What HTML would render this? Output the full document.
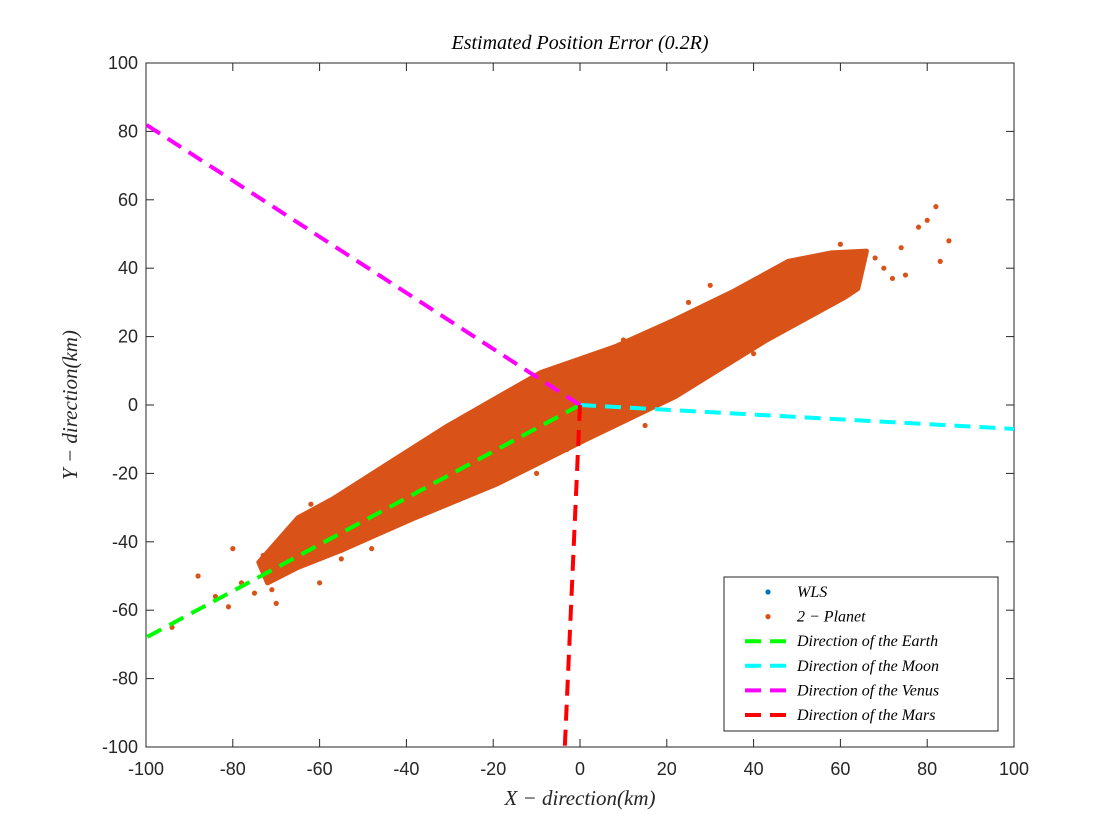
<!DOCTYPE html>
<html><head><meta charset="utf-8"><style>
body{margin:0;background:#fff}
svg{display:block}
text{font-family:"Liberation Sans",sans-serif}
.ser{font-family:"Liberation Serif",serif;font-style:italic}
</style></head><body>
<svg id="chart" width="1120" height="840">
<rect width="1120" height="840" fill="#fff"/>
<g id="plot"></g>
</svg>
<script>
const xTicks=[-100,-80,-60,-40,-20,0,20,40,60,80,100];
const yTicks=[-100,-80,-60,-40,-20,0,20,40,60,80,100];
const cloudUpper=[[-74,-46],[-65,-33],[-57,-27.5],[-44,-17],[-31,-6.5],[-9,9.5],[8,17],[22,25],[35,33],[48,42],[58,44.5],[66,45]];
const cloudLower=[[64,34],[61,31.5],[43,19],[22,2.5],[1.5,-10],[-19,-23],[-39,-33.5],[-55,-42.5],[-65,-47.5],[-72,-52]];
const outX=[-88,-94,-80,-81,-68,82,85,83,78,68,-5,15,17,-30,-55,70,-75,45,30,-10,-62,-70,60,74,-3,10,25,-48,55,-66,-78,-84,-73,-71,75,80,72,-60,40];
const outY=[-50,-65,-42,-59,-38,58,48,42,52,43,7,-6,22,-25,-45,40,-55,38,35,-20,-29,-58,47,46,-13,19,30,-42,28,-48,-52,-56,-44,-54,38,54,37,-52,15];
const lines=[
 {name:'earth',color:'#00ff00',end:[-100,-68]},
 {name:'moon',color:'#00ffff',end:[100,-7]},
 {name:'venus',color:'#ff00ff',end:[-100,82]},
 {name:'mars',color:'#ff0000',end:[-3.5,-100]}
];
const legendLabels=['WLS','2 − Planet','Direction of the Earth','Direction of the Moon','Direction of the Venus','Direction of the Mars'];
const L=146,R=1014,T=63,B=747;
const sx=v=>L+(v+100)/200*(R-L);
const sy=v=>B-(v+100)/200*(B-T);
const NS='http://www.w3.org/2000/svg';
const g=document.getElementById('plot');
function mk(tag,attrs,parent){const e=document.createElementNS(NS,tag);for(const k in attrs)e.setAttribute(k,attrs[k]);(parent||g).appendChild(e);return e;}
const frame=mk('rect',{x:L,y:T,width:R-L,height:B-T,fill:'#fff',stroke:'#262626','stroke-width':1});


xTicks.forEach(v=>{
 const x=sx(v);
 mk('line',{x1:x,x2:x,y1:B,y2:B-8,stroke:'#262626'});
 mk('line',{x1:x,x2:x,y1:T,y2:T+8,stroke:'#262626'});
 const t=mk('text',{x:x,y:B+28,'text-anchor':'middle','font-size':18,fill:'#262626'});t.textContent=v;
 
 
});
yTicks.forEach(v=>{
 const y=sy(v);
 mk('line',{x1:L,x2:L+8,y1:y,y2:y,stroke:'#262626'});
 mk('line',{x1:R,x2:R-8,y1:y,y2:y,stroke:'#262626'});
 const t=mk('text',{x:L-8,y:y+6,'text-anchor':'end','font-size':18,fill:'#262626'});t.textContent=v;
 
 
});
const pts=cloudUpper.concat(cloudLower).map(p=>sx(p[0])+','+sy(p[1])).join(' ');
const cloud=mk('polygon',{points:pts,fill:'#d95319',stroke:'#d95319','stroke-width':5,'stroke-linejoin':'round'});


outX.forEach((v,i)=>{
 const c=mk('circle',{cx:sx(v),cy:sy(outY[i]),r:2.6,fill:'#d95319'});
 
 
});
lines.forEach(l=>{
 const e=mk('line',{x1:sx(0),y1:sy(0),x2:sx(l.end[0]),y2:sy(l.end[1]),stroke:l.color,'stroke-width':4,'stroke-dasharray':'16,9'});
 
 
});
const title=mk('text',{x:580,y:49,'text-anchor':'middle','font-size':20,class:'ser',fill:'#000'});title.textContent='Estimated Position Error (0.2R)';


const xl=mk('text',{x:580,y:805,'text-anchor':'middle','font-size':21,class:'ser',fill:'#262626'});xl.textContent='X − direction(km)';


const yl=mk('text',{x:0,y:0,'text-anchor':'middle','font-size':21,class:'ser',fill:'#262626',transform:'translate(77,405) rotate(-90)'});yl.textContent='Y − direction(km)';


const lg=mk('g',{});


mk('rect',{x:724,y:577,width:274,height:154,fill:'#fff',stroke:'#262626'},lg);
const legendColors=['#0072bd','#d95319','#00ff00','#00ffff','#ff00ff','#ff0000'];
legendLabels.forEach((lab,i)=>{
 const y=592+i*24.6;
 if(i<2){mk('circle',{cx:768,cy:y,r:2.6,fill:legendColors[i]},lg);}
 else{mk('line',{x1:745,x2:790,y1:y,y2:y,stroke:legendColors[i],'stroke-width':4,'stroke-dasharray':'16,9'},lg);}
 const t=mk('text',{x:797,y:y+5,'font-size':16,class:'ser',fill:'#000'},lg);t.textContent=lab;
 
 
});
</script>
</body></html>
